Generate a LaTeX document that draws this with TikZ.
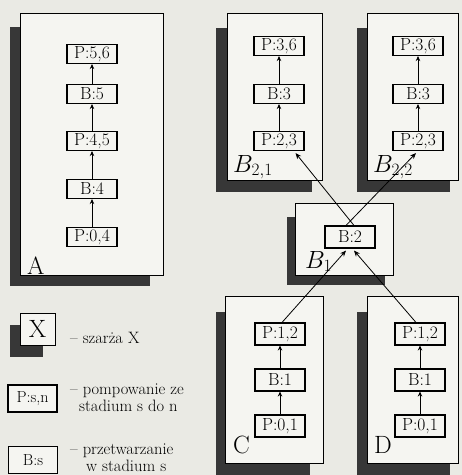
\documentclass[tikz,border=0pt]{standalone}
\usetikzlibrary{arrows.meta,calc}
\definecolor{bgc}{RGB}{234,234,228}
\definecolor{panelc}{RGB}{245,245,241}
\definecolor{shadowc}{RGB}{55,55,55}
\tikzset{
  box/.style={draw=black, line width=1.1pt, fill=panelc, minimum width=50pt, minimum height=19pt, inner sep=1pt, font=\fontsize{17.5}{17.5}\selectfont},
  tallbox/.style={box, minimum height=22pt},
  flow/.style={line width=0.9pt, -{Stealth[length=5pt,width=4.5pt]}},
  crossline/.style={line width=0.8pt, -{Stealth[length=6pt,width=5pt]}},
  panel/.style={draw=black, line width=0.6pt, fill=panelc},
  shade/.style={fill=shadowc},
  biglabel/.style={font=\fontsize{25}{25}\selectfont, inner sep=0pt, anchor=base west},
  legtext/.style={font=\fontsize{16.5}{16.5}\selectfont, inner sep=0pt, anchor=west},
  legbox/.style={draw=black, line width=1.3pt, fill=panelc, minimum width=49pt, minimum height=27pt, inner sep=1pt, font=\fontsize{16}{16}\selectfont}
}
\begin{document}
\begin{tikzpicture}[x=1pt,y=-1pt]
\useasboundingbox (0,0) rectangle (462,475);
\fill[bgc] (0,0) rectangle (462,475);

% panel A
\fill[shade] (10,27) rectangle (150,286);
\draw[panel] (20,13) rectangle (163,275);
% panel B21
\fill[shade] (216,28) rectangle (312,192);
\draw[panel] (227,13) rectangle (322,180);
% panel B22
\fill[shade] (357,28) rectangle (450,192);
\draw[panel] (367,13) rectangle (458,180);
% panel B1
\fill[shade] (287,217) rectangle (385,285);
\draw[panel] (295,203) rectangle (393,275);
% panel C
\fill[shade] (216,312) rectangle (310,480);
\draw[panel] (225,296) rectangle (323,463);
% panel D
\fill[shade] (357,312) rectangle (450,480);
\draw[panel] (367,296) rectangle (458,463);

% nodes A
\node[box] (a56) at (92,54) {P:5,6};
\node[box] (a5) at (92,94) {B:5};
\node[box] (a45) at (92,141) {P:4,5};
\node[box] (a4) at (92,189) {B:4};
\node[box] (a04) at (92,237) {P:0,4};
\draw[flow] (a04.north) -- (a4.south);
\draw[flow] (a4.north) -- (a45.south);
\draw[flow] (a45.north) -- (a5.south);
\draw[flow] (a5.north) -- (a56.south);
\node[biglabel] (la) at (27,274) {A};

% nodes B21
\node[box] (p36a) at (279,46) {P:3,6};
\node[box] (b3a) at (279,94) {B:3};
\node[box] (p23a) at (279,141) {P:2,3};
\draw[flow] (p23a.north) -- (b3a.south);
\draw[flow] (b3a.north) -- (p36a.south);
\node[biglabel] (lb21) at (233,172) {$B_{2,1}$};

% nodes B22
\node[box] (p36b) at (418,46) {P:3,6};
\node[box] (b3b) at (418,94) {B:3};
\node[box] (p23b) at (418,141) {P:2,3};
\draw[flow] (p23b.north) -- (b3b.south);
\draw[flow] (b3b.north) -- (p36b.south);
\node[biglabel] (lb22) at (373,172) {$B_{2,2}$};

% node B1
\node[tallbox] (b2) at (350,237) {B:2};
\node[biglabel] (lb1) at (305,268) {$B_1$};

% nodes C
\node[tallbox] (p12c) at (280,334) {P:1,2};
\node[tallbox] (b1c) at (280,380) {B:1};
\node[tallbox] (p01c) at (280,426) {P:0,1};
\draw[flow] (p01c.north) -- (b1c.south);
\draw[flow] (b1c.north) -- (p12c.south);
\node[biglabel] (lc) at (233,453) {C};

% nodes D
\node[tallbox] (p12d) at (420,334) {P:1,2};
\node[tallbox] (b1d) at (420,380) {B:1};
\node[tallbox] (p01d) at (420,426) {P:0,1};
\draw[flow] (p01d.north) -- (b1d.south);
\draw[flow] (b1d.north) -- (p12d.south);
\node[biglabel] (ld) at (374,453) {D};

% cross connections
\coordinate (t1) at ($(b2.north)+(4,0)$);
\coordinate (t2) at ($(b2.north)+(-4,0)$);
\coordinate (e1) at ($(p23a.south east)+(-9,2)$);
\coordinate (e2) at ($(p23b.south)+(-2,2)$);
\draw[crossline] (t1) -- (e1);
\draw[crossline] (t2) -- (e2);
\coordinate (s1) at ($(p12c.north)+(2,0)$);
\coordinate (s2) at ($(p12d.north)+(-4,0)$);
\coordinate (f1) at ($(b2.south)+(-4,2)$);
\coordinate (f2) at ($(b2.south)+(4,2)$);
\draw[crossline] (s1) -- (f1);
\draw[crossline] (s2) -- (f2);

% legend
\fill[shade] (10,325) rectangle (43,357);
\node[draw=black, line width=0.8pt, fill=panelc, minimum width=35pt, minimum height=32pt, inner sep=0pt, font=\fontsize{25}{25}\selectfont] (lx) at (37.5,329) {X};
\node[legtext] (tx) at (70,338) {– szarża X};
\node[legbox] (lp) at (32.5,398.5) {P:s,n};
\node[legtext] (tp1) at (70,391) {– pompowanie ze};
\node[legtext] (tp2) at (79,406) {stadium s do n};
\node[legbox] (lbs) at (33,460) {B:s};
\node[legtext] (tb1) at (70,451) {– przetwarzanie};
\node[legtext] (tb2) at (86,466) {w stadium s};
\end{tikzpicture}
\end{document}
